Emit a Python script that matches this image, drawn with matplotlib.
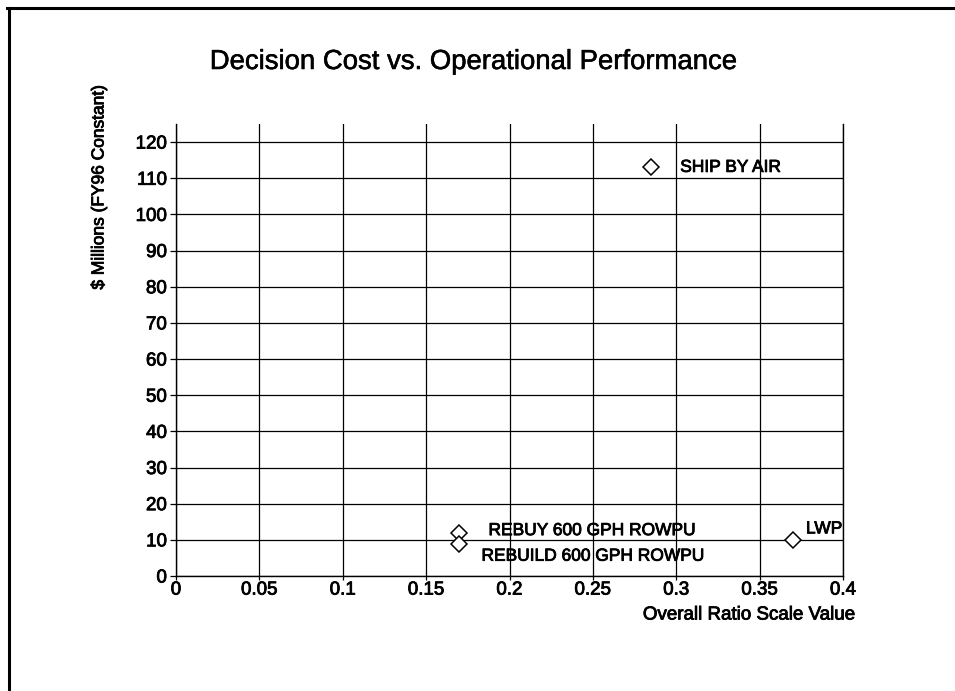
import numpy as np
import matplotlib.pyplot as plt
import matplotlib.patheffects as pe
from matplotlib.lines import Line2D

plt.rcParams['font.family'] = ['Liberation Sans', 'DejaVu Sans']

# alternatives
names = ["SHIP BY AIR", "REBUY 600 GPH ROWPU", "REBUILD 600 GPH ROWPU", "LWP"]
ratio_value = [0.285, 0.17, 0.17, 0.37]
cost = [113, 12, 8.8, 10]
# label offsets in pixels (dx, dy)
label_offset = [(29, 0), (29, 2), (22, -12), (13, 11)]

x_ticks = [0, 0.05, 0.1, 0.15, 0.2, 0.25, 0.3, 0.35, 0.4]
x_tick_labels = ["0", "0.05", "0.1", "0.15", "0.2", "0.25", "0.3", "0.35", "0.4"]
y_ticks = list(range(0, 121, 10))

# scanned print looks a bit heavier than plain regular weight
heavy = [pe.withStroke(linewidth=0.6, foreground="black")]

fig = plt.figure(figsize=(9.55, 6.91), dpi=100)
ax = fig.add_axes([176/955, 1-576/691, 667/955, 452/691])

ax.plot(ratio_value, cost, linestyle="none", marker="D", markersize=8,
        markerfacecolor="white", markeredgecolor="black", markeredgewidth=1.1, zorder=3)

for name, xv, yv, off in zip(names, ratio_value, cost, label_offset):
    ax.annotate(name, (xv, yv), xytext=off, textcoords="offset pixels",
                ha="left", va="center", fontsize=12.5, color="black", path_effects=heavy)

ax.set_xlim(0, 0.4)
ax.set_ylim(0, 125)
ax.set_xticks(x_ticks)
ax.set_xticklabels(x_tick_labels)
ax.set_yticks(y_ticks)
ax.grid(True, color="black", linewidth=0.9)
ax.set_axisbelow(True)
ax.spines["top"].set_visible(False)
for side in ["left", "right", "bottom"]:
    ax.spines[side].set_linewidth(1.0)

ax.tick_params(axis="y", direction="out", length=4.5, width=0.9, labelsize=13.5, pad=2)
ax.tick_params(axis="x", direction="out", length=3, width=0.9, labelsize=13.5, pad=1)
for lbl in ax.get_xticklabels() + ax.get_yticklabels():
    lbl.set_path_effects(heavy)

fig.text(473/955, 1-62/691, "Decision Cost vs. Operational Performance",
         ha="center", va="center", fontsize=19.8,
         path_effects=[pe.withStroke(linewidth=0.4, foreground="black")])
fig.text(99/955, 1-187/691, "$ Millions (FY96 Constant)", rotation=90,
         ha="center", va="center", fontsize=12.5, path_effects=heavy)
fig.text(855/955, 1-615/691, "Overall Ratio Scale Value",
         ha="right", va="center", fontsize=13.5, path_effects=heavy)

# page frame (top and left edges only)
fig.add_artist(Line2D([7/955, 1], [1-8/691, 1-8/691], color="black", linewidth=2.2))
fig.add_artist(Line2D([9/955, 9/955], [0, 1-8/691], color="black", linewidth=2.2))

fig.savefig("out.png", dpi=100)
